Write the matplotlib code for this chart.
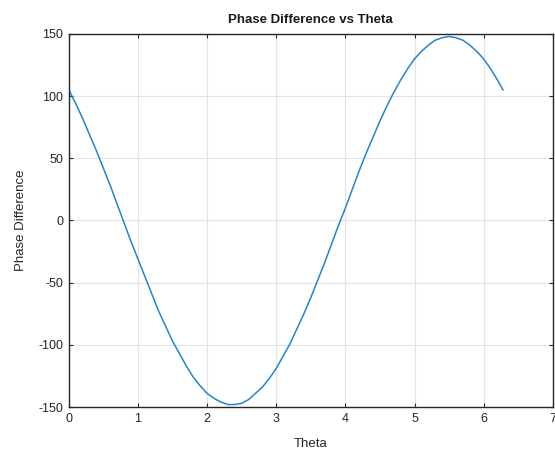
import numpy as np
import matplotlib.pyplot as plt

plt.rcParams['font.family'] = ['Liberation Sans', 'DejaVu Sans']
plt.rcParams['axes.unicode_minus'] = False

# values
theta = [0.0, 0.1, 0.2, 0.3, 0.4, 0.5, 0.6, 0.7, 0.8, 0.9, 1.0, 1.1, 1.2, 1.3,
         1.4, 1.5, 1.6, 1.7, 1.8, 1.9, 2.0, 2.1, 2.2, 2.3, 2.4, 2.5, 2.6, 2.7,
         2.8, 2.9, 3.0, 3.1, 3.2, 3.3, 3.4, 3.5, 3.6, 3.7, 3.8, 3.9, 4.0, 4.1,
         4.2, 4.3, 4.4, 4.5, 4.6, 4.7, 4.8, 4.9, 5.0, 5.1, 5.2, 5.3, 5.4, 5.5,
         5.6, 5.7, 5.8, 5.9, 6.0, 6.1, 6.2, 6.28]
phase_diff = [105, 94, 82, 69, 56, 42, 28, 13, -2, -17, -31, -45, -59, -73,
              -85, -97, -107, -117, -126, -133, -139, -143, -146, -148, -148, -147, -144, -139,
              -134, -127, -119, -109, -99, -87, -75, -62, -48, -34, -19, -4, 10, 25,
              40, 54, 67, 80, 92, 103, 113, 122, 130, 136, 141, 145, 147, 148,
              147, 145, 141, 136, 130, 122, 113, 105]
xticks = [0, 1, 2, 3, 4, 5, 6, 7]
yticks = [-150, -100, -50, 0, 50, 100, 150]

fig = plt.figure(figsize=(5.55, 4.53), dpi=100)
ax = fig.add_axes([0.124, 0.1015, 0.872, 0.8235])

ax.plot(theta, phase_diff, color='#2186cf', lw=1.1)

ax.set_xlim(0, 7)
ax.set_ylim(-150, 150)
ax.set_xticks(xticks)
ax.set_yticks(yticks)
ax.grid(True, color='#e3e3e3', lw=0.8)
ax.set_axisbelow(True)
ax.tick_params(direction='in', top=True, right=True, labelsize=9,
               colors='#262626', length=3, pad=4)
for s in ax.spines.values():
    s.set_color('#262626')
    s.set_linewidth(1.0)

ax.set_title('Phase Difference vs Theta', fontsize=9.5, fontweight='bold', color='#1a1a1a', pad=8)
ax.set_xlabel('Theta', fontsize=9.5, color='#262626', labelpad=10)
ax.set_ylabel('Phase Difference', fontsize=9.5, color='#262626', labelpad=8)

fig.savefig('out.png', dpi=100)
